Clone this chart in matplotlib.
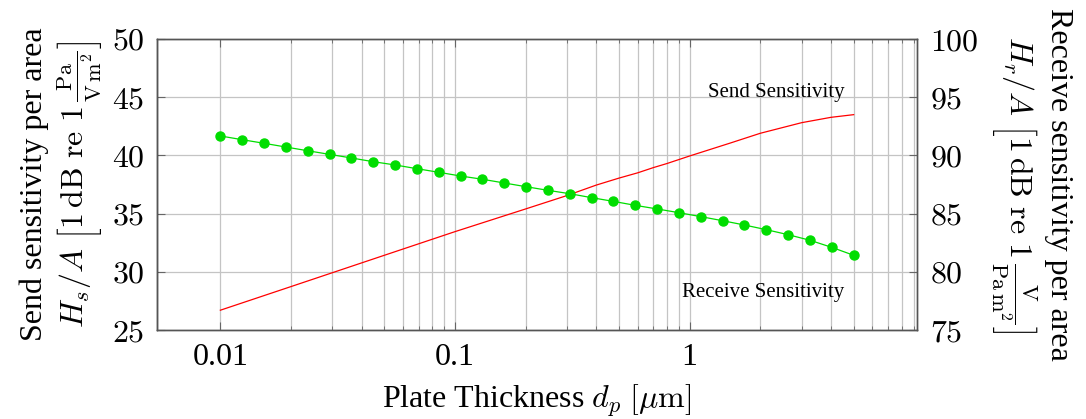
import numpy as np
import matplotlib
matplotlib.use("Agg")
import matplotlib.pyplot as plt
from matplotlib.ticker import FixedLocator, NullFormatter, FuncFormatter

plt.rcParams['font.family'] = ['Liberation Serif', 'DejaVu Serif']
plt.rcParams['mathtext.fontset'] = 'cm'

# Send sensitivity (left axis, red line)
send_x = [0.01, 0.02, 0.05, 0.1, 0.2, 0.3, 0.4, 0.5, 0.6, 0.7, 0.8, 1.0, 1.5, 2.0, 3.0, 4.0, 5.0]
send_y = [26.7, 28.73, 31.42, 33.45, 35.4, 36.55, 37.45, 38.05, 38.5, 38.95, 39.3, 39.95,
          41.08, 41.9, 42.81, 43.27, 43.5]

# Receive sensitivity (right axis, green markers)
recv_x = [0.01, 0.012389, 0.015349, 0.019016, 0.02356, 0.029188, 0.036162, 0.044803,
          0.055508, 0.068772, 0.085202, 0.10562, 0.13086, 0.16212, 0.20086, 0.24885,
          0.30831, 0.38198, 0.47324, 0.5863, 0.72638, 0.90006, 1.1155, 1.382, 1.7122,
          2.1213, 2.6282, 3.2561, 4.0342, 5.0]
recv_y = [91.67, 91.35, 91.04, 90.72, 90.40, 90.09, 89.78, 89.46, 89.18, 88.86,
          88.55, 88.23, 87.95, 87.63, 87.31, 87.00, 86.71, 86.37, 86.05, 85.71,
          85.40, 85.08, 84.74, 84.39, 84.02, 83.62, 83.19, 82.71, 82.10, 81.42]

xticks = [0.01, 0.1, 1]
xticklabels = ["0.01", "0.1", "1"]
xminor = [0.02, 0.03, 0.04, 0.05, 0.06, 0.07, 0.08, 0.09,
          0.2, 0.3, 0.4, 0.5, 0.6, 0.7, 0.8, 0.9,
          2, 3, 4, 5, 6, 7, 8, 9]
left_ticks = [25, 30, 35, 40, 45, 50]
right_ticks = [75, 80, 85, 90, 95, 100]

fig = plt.figure(figsize=(10.86, 4.19), dpi=100)
ax = fig.add_axes([157/1086, 1-330/419, (917-157)/1086, (330-39)/419])
ax2 = ax.twinx()

fs = 23
ax.plot(send_x, send_y, color='#ff0000', lw=0.9, zorder=3)
ax2.plot(recv_x, recv_y, color='#00dd00', lw=0.9, marker='o', ms=6.5,
         markerfacecolor='#00dd00', markeredgecolor='#00dd00', zorder=3)

ax.set_xscale('log')
ax.set_xlim(10**-2.27, 10**0.969)
ax.set_ylim(25, 50)
ax2.set_ylim(75, 100)

ax.xaxis.set_major_locator(FixedLocator(xticks))
ax.set_xticklabels(xticklabels)
ax.xaxis.set_minor_locator(FixedLocator(xminor))
ax.xaxis.set_minor_formatter(NullFormatter())
ax.set_yticks(left_ticks)
ax2.set_yticks(right_ticks)
fmt = FuncFormatter(lambda v, p: f"${v:g}$")
ax.yaxis.set_major_formatter(fmt)
ax2.yaxis.set_major_formatter(fmt)

ax.grid(True, which='major', axis='both', color='#c4c4c4', lw=0.9)
ax.grid(True, which='minor', axis='x', color='#c4c4c4', lw=0.9)
ax.set_axisbelow(True)

ax.tick_params(axis='both', which='major', direction='in', length=6, width=0.8,
               labelsize=fs, pad=9, top=True, color='#666666')
ax.tick_params(axis='x', which='minor', direction='in', length=3, width=0.6, top=True,
               color='#666666')
ax.tick_params(axis='y', which='both', right=False)
ax2.tick_params(axis='y', which='major', direction='in', length=6, width=0.8,
                labelsize=fs, pad=9, color='#666666')
for a in (ax, ax2):
    for s in a.spines.values():
        s.set_color('#555555')
        s.set_linewidth(1.0)
ax.spines['left'].set_color('#111111')

ax.set_xlabel(r"Plate Thickness $d_p$ $[\mu\mathrm{m}]$", fontsize=fs, labelpad=8)
ax.set_ylabel("Send sensitivity per area\n"
              r"$H_s/A\ \left[1\,\mathrm{dB\ re\ }1\,\frac{\mathrm{Pa}}{\mathrm{V\,m}^2}\right]$",
              fontsize=fs, labelpad=6, linespacing=1.2)
ax2.set_ylabel("Receive sensitivity per area\n"
               r"$H_r/A\ \left[1\,\mathrm{dB\ re\ }1\,\frac{\mathrm{V}}{\mathrm{Pa\,m}^2}\right]$",
               fontsize=fs, rotation=-90, va='bottom', labelpad=8, linespacing=1.2)

ax.text(4.57, 45.4, "Send Sensitivity", ha='right', va='center', fontsize=15)
ax.text(4.57, 28.2, "Receive Sensitivity", ha='right', va='center', fontsize=15)

fig.savefig("out.png", dpi=100)
